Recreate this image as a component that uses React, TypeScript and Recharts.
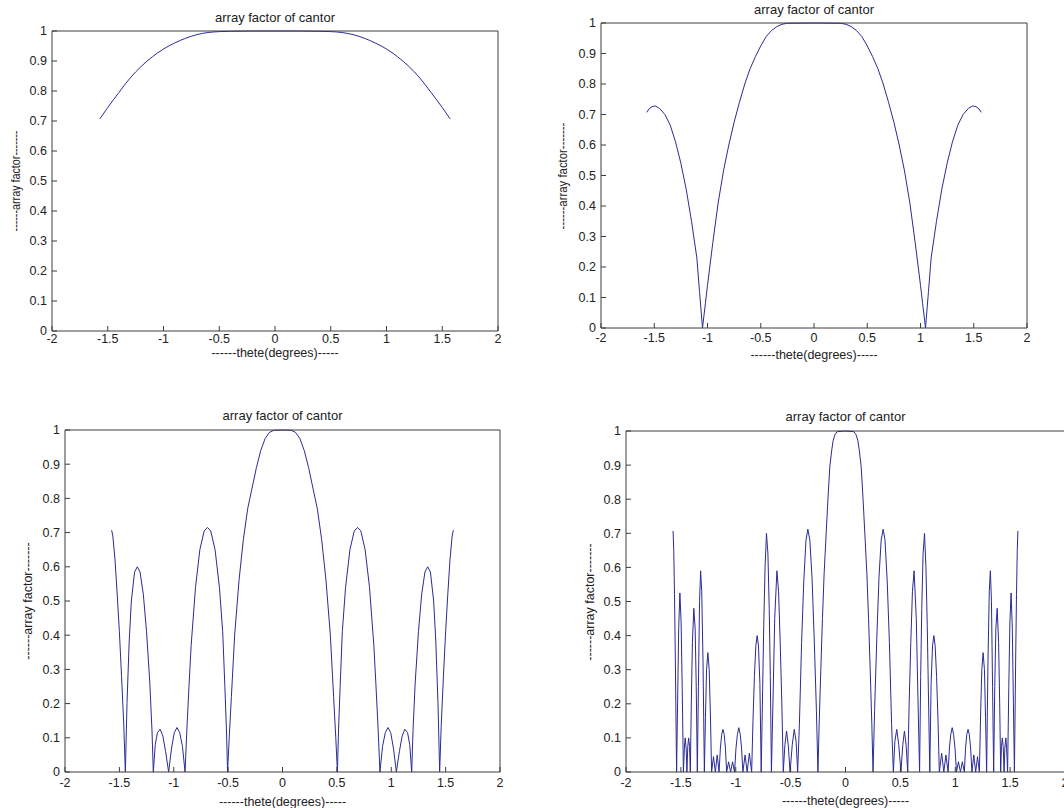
import { LineChart, Line, XAxis, YAxis } from 'recharts'

const xTicks = [-2, -1.5, -1, -0.5, 0, 0.5, 1, 1.5, 2]
const yTicks = [0, 0.1, 0.2, 0.3, 0.4, 0.5, 0.6, 0.7, 0.8, 0.9, 1]

const titleText = 'array factor of cantor'
const xLabelText = '------thete(degrees)-----'
const yLabelText = '------array factor-------'

// [theta, array factor]
const stage1: [number, number][] = [
  [-1.571, 0.707], [-1.5, 0.745], [-1.4, 0.795], [-1.3, 0.843], [-1.2, 0.882], [-1.1, 0.914],
  [-1.0, 0.94], [-0.9, 0.96], [-0.8, 0.976], [-0.7, 0.988], [-0.6, 0.995], [-0.5, 0.998],
  [-0.4, 0.999], [-0.2, 1.0], [0, 1.0], [0.2, 1.0], [0.4, 0.999], [0.5, 0.998], [0.6, 0.995],
  [0.7, 0.988], [0.8, 0.976], [0.9, 0.96], [1.0, 0.94], [1.1, 0.914], [1.2, 0.882], [1.3, 0.843],
  [1.4, 0.795], [1.5, 0.745], [1.571, 0.707],
]

const stage2: [number, number][] = [
  [-1.571, 0.707], [-1.55, 0.718], [-1.52, 0.726], [-1.49, 0.728], [-1.45, 0.72], [-1.4, 0.7],
  [-1.35, 0.665], [-1.3, 0.61], [-1.25, 0.54], [-1.2, 0.455], [-1.15, 0.35], [-1.1, 0.23],
  [-1.075, 0.12], [-1.047, 0], [-1.02, 0.08], [-1.0, 0.14], [-0.95, 0.28], [-0.9, 0.41],
  [-0.85, 0.515], [-0.8, 0.6], [-0.75, 0.675], [-0.7, 0.74], [-0.65, 0.8], [-0.6, 0.85],
  [-0.55, 0.89], [-0.5, 0.925], [-0.45, 0.955], [-0.4, 0.975], [-0.35, 0.988], [-0.3, 0.996],
  [-0.25, 0.999], [0, 1],
  [0.25, 0.999], [0.3, 0.996], [0.35, 0.988], [0.4, 0.975], [0.45, 0.955], [0.5, 0.925],
  [0.55, 0.89], [0.6, 0.85], [0.65, 0.8], [0.7, 0.74], [0.75, 0.675], [0.8, 0.6], [0.85, 0.515],
  [0.9, 0.41], [0.95, 0.28], [1.0, 0.14], [1.02, 0.08], [1.047, 0], [1.075, 0.12], [1.1, 0.23],
  [1.15, 0.35], [1.2, 0.455], [1.25, 0.54], [1.3, 0.61], [1.35, 0.665], [1.4, 0.7], [1.45, 0.72],
  [1.49, 0.728], [1.52, 0.726], [1.55, 0.718], [1.571, 0.707],
]

const stage3: [number, number][] = [
  [-1.571, 0.707], [-1.56, 0.69], [-1.54, 0.62], [-1.52, 0.52], [-1.5, 0.41], [-1.48, 0.28],
  [-1.46, 0.14], [-1.445, 0],
  [-1.43, 0.2], [-1.41, 0.38], [-1.39, 0.5], [-1.36, 0.585], [-1.335, 0.6], [-1.31, 0.585],
  [-1.28, 0.52], [-1.25, 0.41], [-1.22, 0.26], [-1.2, 0.12], [-1.188, 0],
  [-1.17, 0.08], [-1.15, 0.115], [-1.125, 0.125], [-1.1, 0.105], [-1.075, 0.06], [-1.047, 0],
  [-1.02, 0.07], [-0.995, 0.115], [-0.97, 0.13], [-0.945, 0.115], [-0.92, 0.075], [-0.896, 0],
  [-0.88, 0.12], [-0.86, 0.25], [-0.84, 0.37], [-0.8, 0.54], [-0.76, 0.65], [-0.72, 0.705],
  [-0.69, 0.715], [-0.66, 0.705], [-0.62, 0.65], [-0.58, 0.54], [-0.55, 0.41], [-0.53, 0.25],
  [-0.515, 0.12], [-0.505, 0],
  [-0.49, 0.1], [-0.47, 0.22], [-0.44, 0.4], [-0.4, 0.56], [-0.36, 0.68], [-0.32, 0.77],
  [-0.28, 0.83], [-0.24, 0.89], [-0.2, 0.94], [-0.16, 0.975], [-0.12, 0.993], [-0.08, 0.999],
  [0, 1],
  [0.08, 0.999], [0.12, 0.993], [0.16, 0.975], [0.2, 0.94], [0.24, 0.89], [0.28, 0.83],
  [0.32, 0.77], [0.36, 0.68], [0.4, 0.56], [0.44, 0.4], [0.47, 0.22], [0.49, 0.1], [0.505, 0],
  [0.515, 0.12], [0.53, 0.25], [0.55, 0.41], [0.58, 0.54], [0.62, 0.65], [0.66, 0.705],
  [0.69, 0.715], [0.72, 0.705], [0.76, 0.65], [0.8, 0.54], [0.84, 0.37], [0.86, 0.25],
  [0.88, 0.12], [0.896, 0],
  [0.92, 0.075], [0.945, 0.115], [0.97, 0.13], [0.995, 0.115], [1.02, 0.07], [1.047, 0],
  [1.075, 0.06], [1.1, 0.105], [1.125, 0.125], [1.15, 0.115], [1.17, 0.08], [1.188, 0],
  [1.2, 0.12], [1.22, 0.26], [1.25, 0.41], [1.28, 0.52], [1.31, 0.585], [1.335, 0.6],
  [1.36, 0.585], [1.39, 0.5], [1.41, 0.38], [1.43, 0.2], [1.445, 0],
  [1.46, 0.14], [1.48, 0.28], [1.5, 0.41], [1.52, 0.52], [1.54, 0.62], [1.56, 0.69], [1.571, 0.707],
]

const stage4: [number, number][] = [
  [-1.571, 0.707], [-1.565, 0.65], [-1.558, 0.52], [-1.55, 0.32], [-1.545, 0.17], [-1.539, 0],
  [-1.53, 0.2], [-1.52, 0.42], [-1.509, 0.525], [-1.498, 0.44], [-1.488, 0.25], [-1.477, 0],
  [-1.468, 0.07], [-1.461, 0.1], [-1.452, 0.07], [-1.445, 0],
  [-1.437, 0.075], [-1.429, 0.1], [-1.421, 0.075], [-1.414, 0],
  [-1.405, 0.2], [-1.395, 0.38], [-1.382, 0.48], [-1.37, 0.42], [-1.36, 0.25], [-1.35, 0],
  [-1.34, 0.25], [-1.33, 0.5], [-1.32, 0.59], [-1.31, 0.53], [-1.298, 0.32], [-1.286, 0],
  [-1.276, 0.16], [-1.266, 0.3], [-1.254, 0.35], [-1.242, 0.3], [-1.231, 0.17], [-1.22, 0],
  [-1.203, 0.045], [-1.186, 0], [-1.169, 0.05], [-1.152, 0],
  [-1.14, 0.07], [-1.128, 0.11], [-1.117, 0.125], [-1.105, 0.11], [-1.094, 0.07], [-1.083, 0],
  [-1.065, 0.03], [-1.047, 0], [-1.029, 0.03], [-1.011, 0],
  [-0.998, 0.07], [-0.985, 0.11], [-0.972, 0.13], [-0.959, 0.11], [-0.947, 0.07], [-0.935, 0],
  [-0.915, 0.05], [-0.896, 0], [-0.876, 0.055], [-0.855, 0],
  [-0.843, 0.15], [-0.83, 0.28], [-0.817, 0.37], [-0.805, 0.4], [-0.793, 0.37], [-0.78, 0.26], [-0.768, 0],
  [-0.755, 0.24], [-0.745, 0.43], [-0.733, 0.6], [-0.72, 0.7], [-0.707, 0.64], [-0.695, 0.48],
  [-0.685, 0.28], [-0.675, 0],
  [-0.66, 0.22], [-0.645, 0.45], [-0.625, 0.59], [-0.61, 0.53], [-0.595, 0.38], [-0.58, 0.2], [-0.567, 0],
  [-0.552, 0.08], [-0.537, 0.12], [-0.522, 0.08], [-0.505, 0],
  [-0.485, 0.08], [-0.467, 0.125], [-0.45, 0.09], [-0.436, 0],
  [-0.42, 0.14], [-0.4, 0.38], [-0.38, 0.56], [-0.36, 0.68], [-0.343, 0.712], [-0.325, 0.68],
  [-0.305, 0.57], [-0.285, 0.39], [-0.265, 0.18], [-0.251, 0],
  [-0.24, 0.14], [-0.225, 0.3], [-0.21, 0.45], [-0.195, 0.58], [-0.176, 0.7], [-0.16, 0.8],
  [-0.143, 0.895], [-0.125, 0.945], [-0.112, 0.973], [-0.095, 0.99], [-0.076, 0.998], [0, 1],
  [0.076, 0.998], [0.095, 0.99], [0.112, 0.973], [0.125, 0.945], [0.143, 0.895], [0.16, 0.8],
  [0.176, 0.7], [0.195, 0.58], [0.21, 0.45], [0.225, 0.3], [0.24, 0.14], [0.251, 0],
  [0.265, 0.18], [0.285, 0.39], [0.305, 0.57], [0.325, 0.68], [0.343, 0.712], [0.36, 0.68],
  [0.38, 0.56], [0.4, 0.38], [0.42, 0.14], [0.436, 0],
  [0.45, 0.09], [0.467, 0.125], [0.485, 0.08], [0.505, 0],
  [0.522, 0.08], [0.537, 0.12], [0.552, 0.08], [0.567, 0],
  [0.58, 0.2], [0.595, 0.38], [0.61, 0.53], [0.625, 0.59], [0.645, 0.45], [0.66, 0.22], [0.675, 0],
  [0.685, 0.28], [0.695, 0.48], [0.707, 0.64], [0.72, 0.7], [0.733, 0.6], [0.745, 0.43],
  [0.755, 0.24], [0.768, 0],
  [0.78, 0.26], [0.793, 0.37], [0.805, 0.4], [0.817, 0.37], [0.83, 0.28], [0.843, 0.15], [0.855, 0],
  [0.876, 0.055], [0.896, 0], [0.915, 0.05], [0.935, 0],
  [0.947, 0.07], [0.959, 0.11], [0.972, 0.13], [0.985, 0.11], [0.998, 0.07], [1.011, 0],
  [1.029, 0.03], [1.047, 0], [1.065, 0.03], [1.083, 0],
  [1.094, 0.07], [1.105, 0.11], [1.117, 0.125], [1.128, 0.11], [1.14, 0.07], [1.152, 0],
  [1.169, 0.05], [1.186, 0], [1.203, 0.045], [1.22, 0],
  [1.231, 0.17], [1.242, 0.3], [1.254, 0.35], [1.266, 0.3], [1.276, 0.16], [1.286, 0],
  [1.298, 0.32], [1.31, 0.53], [1.32, 0.59], [1.33, 0.5], [1.34, 0.25], [1.35, 0],
  [1.36, 0.25], [1.37, 0.42], [1.382, 0.48], [1.395, 0.38], [1.405, 0.2], [1.414, 0],
  [1.421, 0.075], [1.429, 0.1], [1.437, 0.075], [1.445, 0],
  [1.452, 0.07], [1.461, 0.1], [1.468, 0.07], [1.477, 0],
  [1.488, 0.25], [1.498, 0.44], [1.509, 0.525], [1.52, 0.42], [1.53, 0.2], [1.539, 0],
  [1.545, 0.17], [1.55, 0.32], [1.558, 0.52], [1.565, 0.65], [1.571, 0.707],
]

const FONT = '"Liberation Sans", Arial, sans-serif'
const INK = '#222'
const AXIS = '#3c3c3c'
const LINE = '#2b2b95'

type Box = { l: number; t: number; r: number; b: number }

type PanelProps = {
  points: [number, number][]
  box: Box
  tickGap: number
  titleY: number
  xLabelY: number
  yLabelX: number
  yLabelScale?: number
  curve?: 'linear' | 'monotone'
}

const textStyle = {
  position: 'absolute' as const,
  fontFamily: FONT,
  color: INK,
  whiteSpace: 'nowrap' as const,
  lineHeight: 1,
}

function Panel({ points, box, tickGap, titleY, xLabelY, yLabelX, yLabelScale = 1, curve = 'linear' }: PanelProps) {
  const rows = points.map(([theta, af]) => ({ theta, af }))
  const yAxisW = 50
  const xAxisH = 30
  const pad = 10
  const width = box.r - box.l + yAxisW + pad
  const height = box.b - box.t + pad + xAxisH
  const cx = (box.l + box.r) / 2
  const tickStyle = { fontSize: 12.5, fontFamily: FONT, fill: INK }

  return (
    <>
      <div style={{ position: 'absolute', left: box.l - yAxisW, top: box.t - pad }}>
        <LineChart width={width} height={height} data={rows} margin={{ top: pad - 1, right: pad - 1, bottom: 0, left: 0 }}>
          <XAxis
            xAxisId="b"
            dataKey="theta"
            type="number"
            domain={[-2, 2]}
            ticks={xTicks}
            height={xAxisH}
            tickSize={-5}
            tickMargin={tickGap}
            stroke={AXIS}
            tick={tickStyle}
            interval={0}
          />
          <XAxis
            xAxisId="t"
            orientation="top"
            type="number"
            domain={[-2, 2]}
            ticks={xTicks}
            height={1}
            tickSize={-5}
            tick={false}
            stroke={AXIS}
          />
          <YAxis
            yAxisId="l"
            type="number"
            domain={[0, 1]}
            ticks={yTicks}
            width={yAxisW}
            tickSize={-5}
            tickMargin={10}
            stroke={AXIS}
            tick={tickStyle}
            interval={0}
          />
          <YAxis
            yAxisId="r"
            orientation="right"
            type="number"
            domain={[0, 1]}
            ticks={yTicks}
            width={1}
            tickSize={-5}
            tick={false}
            stroke={AXIS}
          />
          <Line
            xAxisId="b"
            yAxisId="l"
            type={curve}
            dataKey="af"
            stroke={LINE}
            strokeWidth={1}
            dot={false}
            activeDot={false}
            isAnimationActive={false}
          />
        </LineChart>
      </div>
      <div style={{ ...textStyle, fontSize: 13, left: cx, top: titleY, transform: 'translate(-50%, -50%)' }}>
        {titleText}
      </div>
      <div style={{ ...textStyle, fontSize: 12.5, left: cx, top: xLabelY, transform: 'translate(-50%, -50%)' }}>
        {xLabelText}
      </div>
      <div
        style={{
          ...textStyle,
          fontSize: 12.5,
          left: yLabelX,
          top: (box.t + box.b) / 2,
          transform: `translate(-50%, -50%) rotate(-90deg) scaleX(${yLabelScale})`,
        }}
      >
        {yLabelText}
      </div>
    </>
  )
}

export default function App() {
  return (
    <div
      style={{
        position: 'absolute',
        left: 0,
        top: 0,
        width: 1064,
        height: 808,
        overflow: 'hidden',
        background: '#fff',
      }}
    >
      <Panel points={stage1} box={{ l: 52, t: 31, r: 498, b: 331 }} tickGap={8} titleY={17} xLabelY={353} yLabelX={16} yLabelScale={0.86} curve="monotone" />
      <Panel points={stage2} box={{ l: 601, t: 23, r: 1027, b: 328 }} tickGap={10} titleY={9} xLabelY={355} yLabelX={563} yLabelScale={0.91} />
      <Panel points={stage3} box={{ l: 65, t: 430, r: 500, b: 772 }} tickGap={11} titleY={415} xLabelY={802} yLabelX={28} />
      <Panel points={stage4} box={{ l: 626, t: 431, r: 1065, b: 772 }} tickGap={11} titleY={416} xLabelY={801} yLabelX={590} />
    </div>
  )
}
